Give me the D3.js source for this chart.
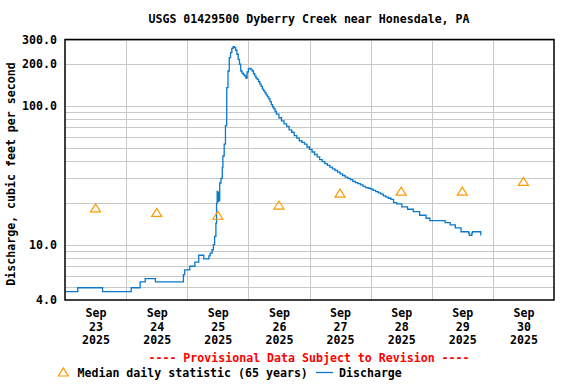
<!DOCTYPE html>
<html>
<head>
<meta charset="utf-8">
<script src="https://cdn.jsdelivr.net/npm/d3@7"></script>
<style>
  html, body { margin: 0; padding: 0; background: #fff; }
  svg { display: block; }
  text { font-family: "DejaVu Sans Mono", "Liberation Mono", monospace; font-weight: bold; }
</style>
</head>
<body>
<svg id="chart" width="576" height="384"></svg>
<script>
// ---------------- DATA ----------------
const title = "USGS 01429500 Dyberry Creek near Honesdale, PA";
const yAxisTitle = "Discharge, cubic feet per second";
const provisionalNote = "---- Provisional Data Subject to Revision ----";
const startDate = "2025-09-23T00:00:00";
const endDate = "2025-10-01T00:00:00";

// x tick labels (one per day, centred at noon)
const dayMonths = ["Sep", "Sep", "Sep", "Sep", "Sep", "Sep", "Sep", "Sep"];
const dayNumbers = ["23", "24", "25", "26", "27", "28", "29", "30"];
const dayYears = ["2025", "2025", "2025", "2025", "2025", "2025", "2025", "2025"];

// y tick labels and grid values
const yTickValues = [4, 10, 100, 200, 300];
const yTickLabels = ["4.0", "10.0", "100.0", "200.0", "300.0"];
const yGridValues = [5, 6, 7, 8, 9, 10, 20, 30, 40, 50, 60, 70, 80, 90, 100, 200, 300];

// Median daily statistic (65 years), one per day at noon
const medianValues = [18.4, 17.1, 16.3, 19.3, 23.5, 24.3, 24.3, 28.6];

// Discharge (hours since Sep 23 00:00, cfs)
const dischargeHours = [
  0, 5, 14.75, 26, 29.5, 31.5, 35.5, 46.5, 47, 49, 51, 52.5, 54.5, 56.5, 57, 57.75,
  58.25, 58.75, 59.25, 59.5, 59.75, 60, 60.25, 60.5, 60.75, 61.25, 61.75, 62, 62.5,
  63, 63.5, 64, 64.5, 65, 65.5, 66, 66.5, 67, 67.5, 68, 68.5, 69, 69.5, 70, 70.5, 71,
  71.5, 72, 72.5, 73, 73.5, 74, 74.5, 75, 75.5, 76, 76.5, 77, 77.5, 78, 78.5, 79,
  79.5, 80, 80.5, 81, 81.5, 82, 82.5, 83, 84, 85, 86, 87, 88, 89, 90, 91, 92, 93, 94,
  95, 96, 97, 98, 99, 100, 101, 102, 103, 104, 105, 106, 107, 108, 109, 110, 111,
  112, 113, 114, 115, 116, 117, 118, 119, 120, 121, 122, 123, 124, 125, 126, 127,
  128, 129, 130.25, 132.25, 134.5, 136.75, 139.25, 141.75, 143.25, 149.25, 151.25,
  153.25, 155.5, 158.5, 158.75, 159.75, 160, 163.25, 163.5
];
const dischargeValues = [
  4.6, 4.9, 4.6, 4.9, 5.4, 5.7, 5.4, 6.1, 6.6, 7.0, 7.5, 8.4, 7.9, 8.3, 8.7, 9.2,
  10.0, 11.5, 14.3, 19.9, 24.2, 20.5, 23.7, 20.8, 27.8, 30.0, 36.0, 43.5, 53,
  72, 135, 178, 222, 241, 259, 266, 262, 251, 235, 216, 199, 178, 172, 168, 164, 158,
  175, 185, 186, 182, 178, 170, 164, 158, 155, 149, 143, 138, 132, 128, 124, 120,
  116, 112, 107, 102, 98, 95, 91, 87, 82, 78, 74, 71, 67, 64.5, 61, 58.5, 56, 54.5, 53,
  50.5, 48.5, 46.5, 44.6, 42.9, 41, 39.7, 38.4, 37.2, 36.2, 35.2, 34.3, 33.3, 32.4, 31.5, 30.7, 30,
  29.4, 28.6, 28, 27.5, 27, 26.3, 25.8, 25.5, 25.1, 24.6, 24.1, 23.6, 23.1, 22.5, 22, 21.6,
  21.2, 20.1, 19.7, 18.7, 18.0, 17.3, 16.3, 15.5, 14.9, 14.4, 13.9,
  13.2, 12.4, 12.1, 11.7, 12.1, 12.4, 11.8, 11.8
];

// ---------------- CHART ----------------
const svg = d3.select("#chart");
const plot = { left: 65, right: 554, top: 39.5, bottom: 300 };
const t0 = new Date(startDate);
const t1 = new Date(endDate);
const HOUR = 3600 * 1000;

const x = d3.scaleTime().domain([t0, t1]).range([plot.left, plot.right]);
const y = d3.scaleLog().domain([4, 300]).range([plot.bottom, plot.top]);

const days = d3.timeDay.range(t0, t1);
const noons = days.map(d => new Date(d.getTime() + 12 * HOUR));

// background
svg.append("rect").attr("x", 0).attr("y", 0).attr("width", 576).attr("height", 384).attr("fill", "#fff");

// grid
const grid = svg.append("g").attr("shape-rendering", "crispEdges");
grid.selectAll("line.h").data(yGridValues).join("line")
  .attr("class", "h")
  .attr("x1", plot.left).attr("x2", plot.right)
  .attr("y1", d => Math.round(y(d)) + 0.5).attr("y2", d => Math.round(y(d)) + 0.5)
  .attr("stroke", "#c8c8c8").attr("stroke-width", 1);
grid.selectAll("line.v").data(days.slice(1)).join("line")
  .attr("class", "v")
  .attr("y1", plot.top).attr("y2", plot.bottom)
  .attr("x1", d => Math.round(x(d)) + 0.5).attr("x2", d => Math.round(x(d)) + 0.5)
  .attr("stroke", "#c8c8c8").attr("stroke-width", 1);

// discharge line
const dischargeData = dischargeHours.map((h, i) => ({ t: new Date(t0.getTime() + h * HOUR), v: dischargeValues[i] }));
const line = d3.line().x(d => x(d.t)).y(d => y(d.v)).curve(d3.curveStepAfter);
svg.append("path").datum(dischargeData)
  .attr("d", line)
  .attr("fill", "none")
  .attr("stroke", "#0a78cc")
  .attr("stroke-width", 1.3);

// median triangles
const tri = (cx, cy) => `M${cx - 5},${cy + 4}L${cx},${cy - 4}L${cx + 5},${cy + 4}Z`;
svg.selectAll("path.med").data(medianValues).join("path")
  .attr("class", "med")
  .attr("d", (d, i) => tri(x(noons[i]), y(d)))
  .attr("fill", "none")
  .attr("stroke", "#ff9900")
  .attr("stroke-width", 1.2);

// frame
svg.append("rect")
  .attr("x", plot.left).attr("y", plot.top)
  .attr("width", plot.right - plot.left).attr("height", plot.bottom - plot.top)
  .attr("fill", "none").attr("stroke", "#000").attr("stroke-width", 1.5);

// y axis labels
const yAxis = d3.axisLeft(y).tickValues(yTickValues)
  .tickFormat((d, i) => yTickLabels[i]).tickSize(0).tickPadding(8);
const yg = svg.append("g").attr("transform", `translate(${plot.left},0)`).call(yAxis);
yg.select(".domain").remove();
yg.selectAll("text").attr("font-size", "11.6px").attr("fill", "#000")
  .attr("font-family", "DejaVu Sans Mono").attr("font-weight", "bold");

// x axis labels (three lines at noon)
const xAxis = d3.axisBottom(x).tickValues(noons).tickSize(0).tickFormat(() => "");
const xg = svg.append("g").attr("transform", `translate(0,${plot.bottom})`).call(xAxis);
xg.select(".domain").remove();
xg.selectAll(".tick").each(function (d, i) {
  const g = d3.select(this);
  g.select("text").remove();
  const lines = [dayMonths[i], dayNumbers[i], dayYears[i]];
  lines.forEach((s, k) => {
    g.append("text").attr("x", 0).attr("y", 17 + k * 13.5)
      .attr("text-anchor", "middle").attr("font-size", "11.6px").attr("fill", "#000")
      .text(s);
  });
});

// title
svg.append("text").attr("x", 309).attr("y", 23).attr("text-anchor", "middle")
  .attr("font-size", "11.6px").attr("fill", "#000").text(title);

// y axis title
svg.append("text").attr("transform", "translate(15,174) rotate(-90)")
  .attr("text-anchor", "middle").attr("font-size", "11.6px").attr("fill", "#000").text(yAxisTitle);

// provisional note
svg.append("text").attr("x", 309).attr("y", 362).attr("text-anchor", "middle")
  .attr("font-size", "11.6px").attr("fill", "#ff0000").text(provisionalNote);

// legend
svg.append("path").attr("d", tri(63.3, 372)).attr("fill", "none")
  .attr("stroke", "#ff9900").attr("stroke-width", 1.2);
svg.append("text").attr("x", 77.5).attr("y", 376.5).attr("font-size", "11.6px").attr("fill", "#000")
  .text("Median daily statistic (65 years)");
svg.append("line").attr("x1", 316).attr("x2", 333).attr("y1", 372.5).attr("y2", 372.5)
  .attr("stroke", "#0a78cc").attr("stroke-width", 1.3);
svg.append("text").attr("x", 339).attr("y", 376.5).attr("font-size", "11.6px").attr("fill", "#000")
  .text("Discharge");
</script>
</body>
</html>
